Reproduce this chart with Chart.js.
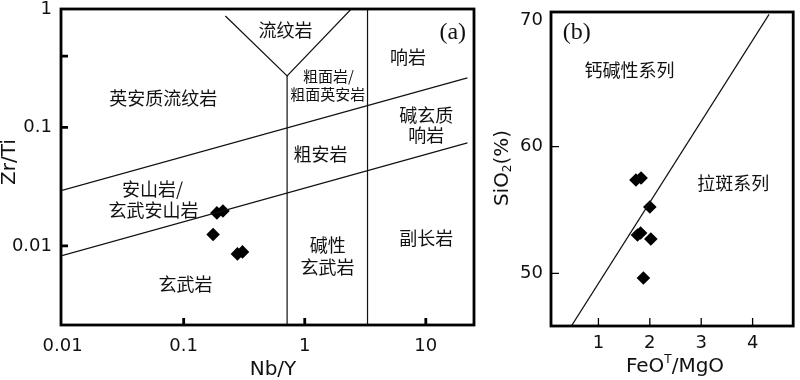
<!DOCTYPE html>
<html lang="zh">
<head>
<meta charset="UTF-8">
<title>Zr/Ti - Nb/Y 与 SiO2 - FeOT/MgO 图解</title>
<script src="https://cdn.jsdelivr.net/npm/chart.js@4.4.4/dist/chart.umd.min.js"></script>
<style>
  html, body { margin: 0; padding: 0; background: #fff; }
  #wrap { position: relative; width: 800px; height: 380px; overflow: hidden; }
  canvas { position: absolute; top: 0; }
  #chart-a { left: 0; }
  #chart-b { left: 490px; }
</style>
</head>
<body>
<div id="wrap">
  <canvas id="chart-a" width="490" height="380"></canvas>
  <canvas id="chart-b" width="310" height="380"></canvas>
</div>
<script>
// ---------- panel (a): Zr/Ti vs Nb/Y (log-log) ----------
const nbY  = [0.188, 0.211, 0.175, 0.278, 0.306];
const zrTi = [0.0190, 0.0197, 0.0125, 0.00856, 0.00890];

// field boundaries, [Nb/Y, Zr/Ti]
const aUpperLine = [[0.0097, 0.0293], [22.05, 0.262]];
const aLowerLine = [[0.0097, 0.00824], [22.05, 0.0740]];
const aVShape    = [[0.221, 0.873], [0.715, 0.272], [2.42, 1]];
const aLeftVert  = [[0.715, 0.272], [0.715, 0.00215]];
const aRightVert = [[3.30, 1], [3.30, 0.00215]];

const aXTickLabels = [0.01, 0.1, 1, 10];
const aYTickLabels = [0.01, 0.1, 1];
const aXTickMarks = [0.1, 1, 10];
const aYTickMarks = [0.4, 0.1, 0.01];

const aFieldText = ['流纹岩', '英安质流纹岩', '粗面岩/', '粗面英安岩', '响岩', '碱玄质', '响岩',
                    '粗安岩', '安山岩/', '玄武安山岩', '玄武岩', '碱性', '玄武岩', '副长岩'];
const aFieldX = [0.693, 0.0679, 1.57, 1.55, 7.11, 10.1, 10.1, 1.35, 0.0552, 0.0563, 0.1035, 1.55, 1.54, 10.1];
const aFieldY = [0.665, 0.177, 0.272, 0.192, 0.390, 0.127, 0.0864, 0.0598, 0.0303, 0.0199, 0.00478, 0.0101, 0.00659, 0.0117];

// ---------- panel (b): SiO2 vs FeOT/MgO ----------
const feoMgo = [1.73, 1.83, 2.00, 1.76, 1.82, 2.02, 1.875];
const sio2   = [57.37, 57.53, 55.24, 53.03, 53.18, 52.71, 49.63];

const bDivider = [[0.476, 45.85], [4.32, 70.45]];

const bXTickLabels = [1, 2, 3, 4];
const bYTickLabels = [50, 60, 70];
const bXTickMarks = [1, 2, 3, 4];
const bYTickMarks = [50, 60];

const bFieldText = ['钙碱性系列', '拉斑系列'];
const bFieldX = [1.606, 3.625];
const bFieldY = [66.06, 57.13];

// ---------- drawing helpers ----------
const INK = '#111';
const SMALL = new Set(['粗面岩/', '粗面英安岩']);
const tickFont = { family: 'DejaVu Sans', size: 18 };

function pts(seg) { return seg.map(p => ({ x: p[0], y: p[1] })); }

function lineSet(seg) {
  return { data: pts(seg), showLine: true, borderColor: INK, borderWidth: 1.2,
           pointRadius: 0, fill: false };
}

function markerSet(xs, ys) {
  return { data: xs.map((x, i) => ({ x, y: ys[i] })), pointStyle: 'rectRot',
           pointRadius: 6.8, backgroundColor: '#000', borderWidth: 0 };
}

function drawRich(ctx, parts, cx, cy, rot) {
  ctx.save();
  ctx.translate(cx, cy);
  if (rot) ctx.rotate(rot);
  let w = 0;
  parts.forEach(p => { ctx.font = p.size + 'px "DejaVu Sans"'; w += ctx.measureText(p.t).width; });
  let x = -w / 2;
  ctx.textBaseline = 'middle';
  ctx.textAlign = 'left';
  parts.forEach(p => {
    ctx.font = p.size + 'px "DejaVu Sans"';
    ctx.fillText(p.t, x, p.dy || 0);
    x += ctx.measureText(p.t).width;
  });
  ctx.restore();
}

function decor(o) {
  return {
    id: 'decor',
    afterDatasetsDraw(chart) {
      const { ctx, chartArea: a, scales: { x, y } } = chart;
      ctx.save();
      ctx.strokeStyle = '#000';
      ctx.lineWidth = o.tickWidth;
      ctx.beginPath();
      o.xMarks.forEach(v => {
        const px = x.getPixelForValue(v);
        ctx.moveTo(px, a.bottom); ctx.lineTo(px, a.bottom - o.tickLen);
      });
      o.yMarks.forEach(v => {
        const py = y.getPixelForValue(v);
        ctx.moveTo(a.left, py); ctx.lineTo(a.left + o.tickLen, py);
      });
      ctx.stroke();

      ctx.lineWidth = 2.8;
      ctx.strokeRect(a.left, a.top, a.right - a.left, a.bottom - a.top);

      ctx.fillStyle = INK;
      ctx.textAlign = 'center';
      ctx.textBaseline = 'middle';
      o.text.forEach((t, i) => {
        ctx.font = (SMALL.has(t) ? 15 : 18) + 'px "Noto Sans CJK SC"';
        ctx.fillText(t, x.getPixelForValue(o.tx[i]), y.getPixelForValue(o.ty[i]));
      });

      ctx.font = '24px "Liberation Serif"';
      ctx.fillText(o.tag, x.getPixelForValue(o.tagX), y.getPixelForValue(o.tagY));

      o.titles(ctx, a);
      ctx.restore();
    }
  };
}

// axis: labels only, frame and inward ticks are drawn by decor
function axisOpts(type, min, max, ticks, pad, size, isY) {
  return {
    type, min, max,
    grid: { display: false, drawTicks: false },
    border: { display: false },
    ticks: { font: tickFont, color: INK, padding: pad, autoSkip: false, maxRotation: 0,
             callback: v => String(v) },
    afterBuildTicks: s => { s.ticks = ticks.map(v => ({ value: v })); },
    afterFit: s => {
      if (isY) s.width = size; else s.height = size;
      s.paddingLeft = s.paddingRight = s.paddingTop = s.paddingBottom = 0;
    }
  };
}

new Chart(document.getElementById('chart-a'), {
  type: 'scatter',
  data: {
    datasets: [aUpperLine, aLowerLine, aVShape, aLeftVert, aRightVert].map(lineSet)
      .concat([markerSet(nbY, zrTi)])
  },
  options: {
    responsive: false, animation: false, devicePixelRatio: 1,
    layout: { padding: { top: 9, right: 16, left: 0, bottom: 0 } },
    plugins: { legend: { display: false }, tooltip: { enabled: false } },
    scales: {
      x: axisOpts('logarithmic', 0.0097, 25, aXTickLabels, 11, 55, false),
      y: axisOpts('logarithmic', 0.00215, 1, aYTickLabels, 9, 61, true)
    }
  },
  plugins: [decor({
    xMarks: aXTickMarks, yMarks: aYTickMarks, tickLen: 7, tickWidth: 2.8,
    text: aFieldText, tx: aFieldX, ty: aFieldY,
    tag: '(a)', tagX: 16.7, tagY: 0.633,
    titles: (ctx) => {
      drawRich(ctx, [{ t: 'Zr/Ti', size: 20 }], 10, 162, -Math.PI / 2);
      drawRich(ctx, [{ t: 'Nb/Y', size: 20 }], 273, 370);
    }
  })]
});

new Chart(document.getElementById('chart-b'), {
  type: 'scatter',
  data: { datasets: [lineSet(bDivider), markerSet(feoMgo, sio2)] },
  options: {
    responsive: false, animation: false, devicePixelRatio: 1,
    layout: { padding: { top: 12, right: 4, left: 0, bottom: 0 } },
    plugins: { legend: { display: false }, tooltip: { enabled: false } },
    scales: {
      x: axisOpts('linear', 0.077, 4.79, bXTickLabels, 7, 54, false),
      y: axisOpts('linear', 45.84, 70.64, bYTickLabels, 8, 61, true)
    }
  },
  plugins: [decor({
    xMarks: bXTickMarks, yMarks: bYTickMarks, tickLen: 8, tickWidth: 1.3,
    text: bFieldText, tx: bFieldX, ty: bFieldY,
    tag: '(b)', tagX: 0.577, tagY: 69.02,
    titles: (ctx) => {
      drawRich(ctx, [{ t: 'SiO', size: 20 }, { t: '2', size: 12, dy: 5 }, { t: '(%)', size: 20 }],
               13, 168, -Math.PI / 2);
      drawRich(ctx, [{ t: 'FeO', size: 20 }, { t: 'T', size: 12, dy: -7 }, { t: '/MgO', size: 20 }],
               185, 367);
    }
  })]
});
</script>
</body>
</html>
